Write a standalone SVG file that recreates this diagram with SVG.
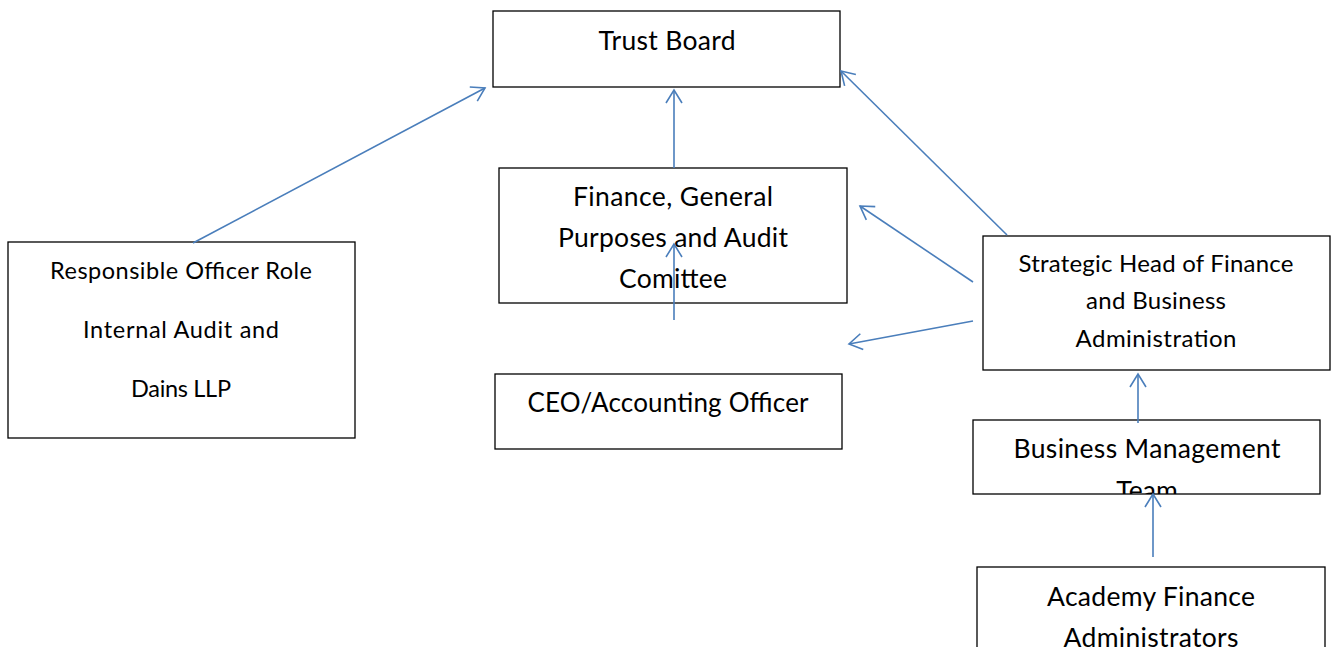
<svg xmlns="http://www.w3.org/2000/svg" width="1335" height="647" viewBox="0 0 1335 647">
<style>
.box{fill:#fff;stroke:#000;stroke-width:1.3}
.t{font-family:Lato,"Liberation Sans",sans-serif;fill:#000;text-anchor:middle}
.c{stroke:#4a7ebb;stroke-width:1.6;fill:none;marker-end:url(#ah)}
</style>
<defs>
<marker id="ah" markerUnits="userSpaceOnUse" markerWidth="20" markerHeight="20" refX="14" refY="8" orient="auto" viewBox="0 0 20 16">
<path d="M1,0 L14,8 L1,16" fill="none" stroke="#4a7ebb" stroke-width="1.6"/>
</marker>
<clipPath id="cpBmt"><rect x="973" y="420" width="347" height="74"/></clipPath>
</defs>
<rect width="1335" height="647" fill="#fff"/>
<g id="trust-board">
<rect class="box" x="493" y="11" width="347" height="76"/>
<text class="t" x="667" y="50" font-size="26.5" textLength="137" lengthAdjust="spacing">Trust Board</text>
</g>
<g id="finance-committee">
<rect class="box" x="499" y="168" width="348" height="135"/>
<text class="t" x="673" y="206" font-size="26.5" textLength="200" lengthAdjust="spacing">Finance, General</text>
<text class="t" x="673" y="247" font-size="26.5" textLength="230" lengthAdjust="spacing">Purposes and Audit</text>
<text class="t" x="673" y="288" font-size="26.5" textLength="108" lengthAdjust="spacing">Comittee</text>
</g>
<g id="ceo">
<rect class="box" x="495" y="374" width="347" height="75"/>
<text class="t" x="668" y="412" font-size="26" textLength="281" lengthAdjust="spacing">CEO/Accounting Officer</text>
</g>
<g id="responsible-officer">
<rect class="box" x="8" y="242" width="347" height="196"/>
<text class="t" x="181" y="279" font-size="23.5" textLength="262" lengthAdjust="spacing">Responsible Officer Role</text>
<text class="t" x="181" y="338" font-size="23.5" textLength="196" lengthAdjust="spacing">Internal Audit and</text>
<text class="t" x="181" y="397" font-size="23.5" textLength="100" lengthAdjust="spacing">Dains LLP</text>
</g>
<g id="strategic-head">
<rect class="box" x="983" y="236" width="347" height="134"/>
<text class="t" x="1156" y="272" font-size="24" textLength="275" lengthAdjust="spacing">Strategic Head of Finance</text>
<text class="t" x="1156" y="309" font-size="24" textLength="140" lengthAdjust="spacing">and Business</text>
<text class="t" x="1156" y="347" font-size="24" textLength="161" lengthAdjust="spacing">Administration</text>
</g>
<g id="business-management">
<rect class="box" x="973" y="420" width="347" height="74"/>
<g clip-path="url(#cpBmt)">
<text class="t" x="1147" y="458" font-size="26.5" textLength="267" lengthAdjust="spacing">Business Management</text>
<text class="t" x="1147" y="500" font-size="26.5">Team</text>
</g>
</g>
<g id="academy-finance">
<rect class="box" x="977" y="567" width="348" height="100"/>
<text class="t" x="1151" y="606" font-size="26.5" textLength="208" lengthAdjust="spacing">Academy Finance</text>
<text class="t" x="1151" y="647" font-size="26.5" textLength="175" lengthAdjust="spacing">Administrators</text>
</g>
<g id="connectors">
<line class="c" x1="193" y1="243" x2="485" y2="88"/>
<line class="c" x1="674" y1="168" x2="674" y2="90"/>
<line class="c" x1="674" y1="320" x2="674" y2="244"/>
<line class="c" x1="1007" y1="235" x2="841" y2="71"/>
<line class="c" x1="973" y1="282" x2="860" y2="206"/>
<line class="c" x1="973" y1="321" x2="849" y2="344"/>
<line class="c" x1="1138" y1="423" x2="1138" y2="374"/>
<line class="c" x1="1153" y1="557" x2="1153" y2="494"/>
</g>
</svg>
